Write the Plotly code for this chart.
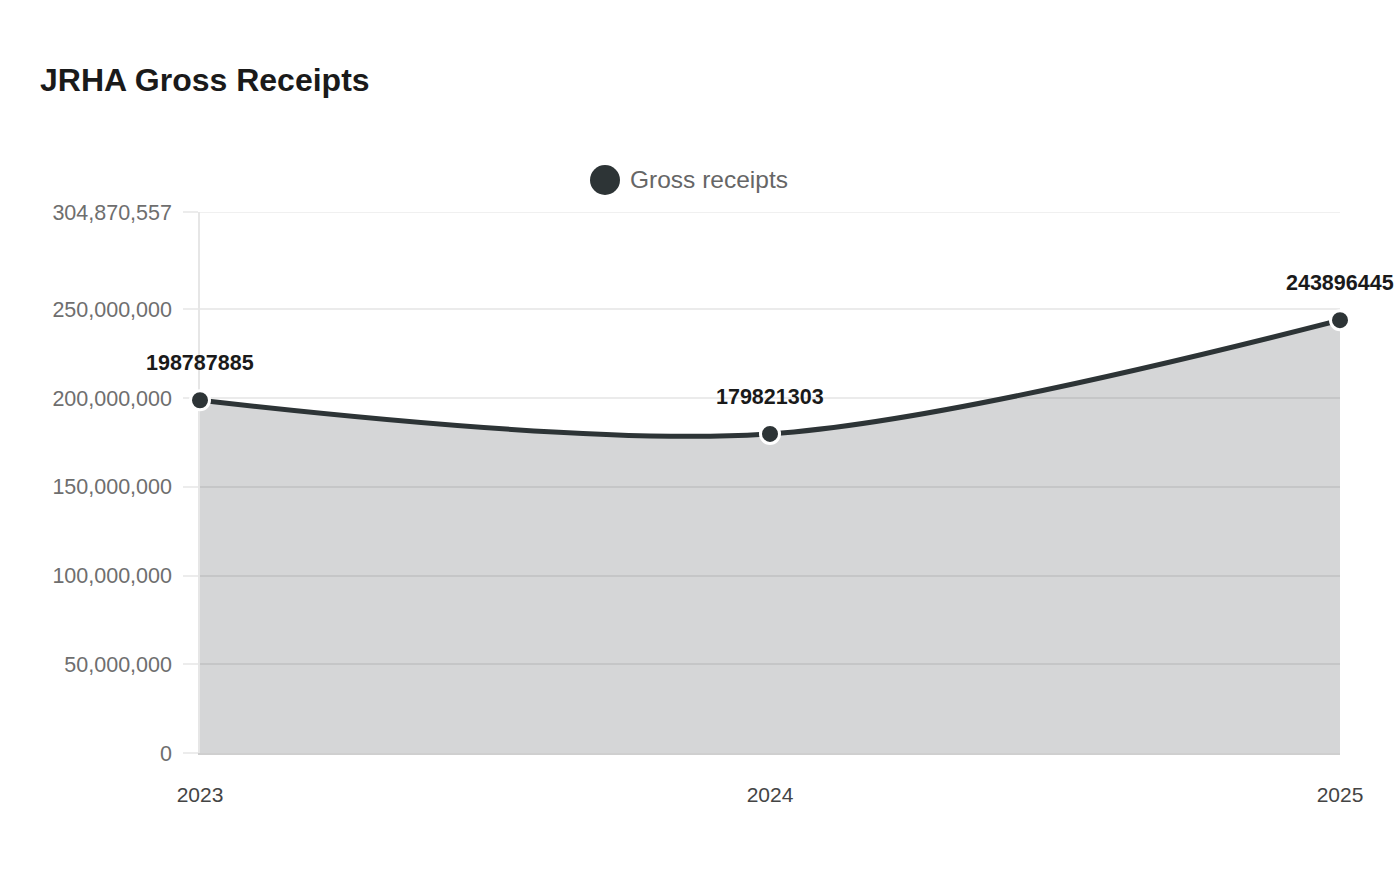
import plotly.graph_objects as go

years = [2023, 2024, 2025]
gross_receipts = [198787885, 179821303, 243896445]
series_name = "Gross receipts"
y_max = 304870557
y_tickvals = [0, 50000000, 100000000, 150000000, 200000000, 250000000, y_max]
y_ticktext = [f"{v:,}" for v in y_tickvals]
x_ticktext = [str(y) for y in years]

FONT = "Liberation Sans, Arial, sans-serif"
LINE = "#2d3436"
GRID = "#ebebeb"

fig = go.Figure()
fig.add_trace(go.Scatter(
    x=years, y=gross_receipts, name=series_name,
    mode="lines+markers",
    line=dict(color=LINE, width=5, shape="spline", smoothing=0.9),
    fill="tozeroy", fillcolor="rgba(45,52,54,0.2)",
    marker=dict(size=19, color=LINE, line=dict(color="white", width=3)),
    cliponaxis=False, showlegend=False, hoverinfo="x+y",
))

for xv, yv in zip(years, gross_receipts):
    fig.add_annotation(x=xv, y=yv, text=f"<b>{yv}</b>", showarrow=False,
                       yshift=37, font=dict(family=FONT, size=21.5, color="#1a1a1a"))

# top gridline (at the axis maximum)
fig.add_shape(type="line", xref="paper", yref="y", x0=0, x1=1, y0=y_max, y1=y_max,
              line=dict(color=GRID, width=1.5), layer="below")

# custom legend
fig.add_shape(type="circle", xref="paper", yref="paper",
              x0=(590 - 200) / 1140, x1=(620 - 200) / 1140,
              y0=(753 - 195) / 541, y1=(753 - 165) / 541,
              fillcolor=LINE, line=dict(width=0))
fig.add_annotation(xref="paper", yref="paper", x=(628 - 200) / 1140, y=(753 - 180) / 541,
                   text=series_name, showarrow=False, xanchor="left", yanchor="middle",
                   font=dict(family=FONT, size=24.5, color="#666666"))

fig.update_layout(
    width=1400, height=880,
    margin=dict(l=200, r=60, t=212, b=127),
    paper_bgcolor="white", plot_bgcolor="white",
    font=dict(family=FONT),
    title=dict(text="<b>JRHA Gross Receipts</b>", x=40 / 1400, xref="container", xanchor="left",
               y=1 - 80 / 880, yref="container", yanchor="middle",
               font=dict(family=FONT, size=32, color="#1a1a1a")),
    showlegend=False,
    xaxis=dict(range=[2023, 2025], tickvals=years, ticktext=x_ticktext,
               showgrid=False, zeroline=False,
               showline=True, linecolor="#cfcfcf", linewidth=1.5,
               ticks="", ticklabelstandoff=22, layer="below traces",
               tickfont=dict(family=FONT, size=21, color="#444444")),
    yaxis=dict(range=[0, y_max], tickvals=y_tickvals, ticktext=y_ticktext,
               showgrid=True, gridcolor=GRID, gridwidth=1.5, zeroline=False,
               showline=True, linecolor="#e6e6e6", linewidth=1.5,
               ticks="outside", ticklen=15, tickcolor="#ececec", tickwidth=1.5,
               ticklabelstandoff=7, layer="below traces",
               tickfont=dict(family=FONT, size=21.5, color="#6e6e6e")),
)

fig.write_html("out.html")
